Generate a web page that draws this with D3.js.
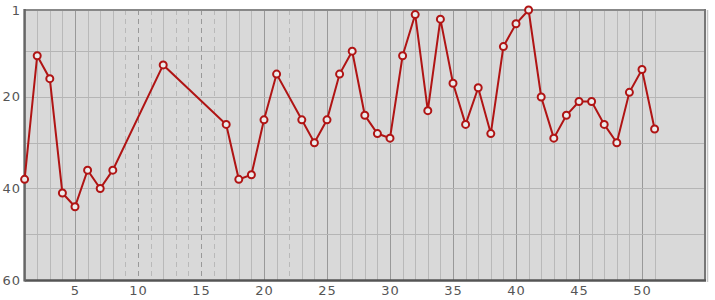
<!DOCTYPE html>
<html>
<head>
<meta charset="utf-8">
<script src="https://cdn.jsdelivr.net/npm/d3@7"></script>
<style>
  body { margin: 0; background: #fff; }
  text { font-family: "DejaVu Sans", sans-serif; font-size: 13px; fill: #555; letter-spacing: 1px; }
</style>
</head>
<body>
<div id="chart"></div>
<script>
// x position of each point (gaps where nothing was recorded)
const positions = [1, 2, 3, 4, 5, 6, 7, 8, 12, 17, 18, 19, 20, 21, 23, 24, 25, 26, 27, 28, 29, 30,
  31, 32, 33, 34, 35, 36, 37, 38, 39, 40, 41, 42, 43, 44, 45, 46, 47, 48, 49, 50, 51];
const ranks = [38, 11, 16, 41, 44, 36, 40, 36, 13, 26, 38, 37, 25, 15, 25, 30, 25, 15, 10, 24, 28, 29,
  11, 2, 23, 3, 17, 26, 18, 28, 9, 4, 1, 20, 29, 24, 21, 21, 26, 30, 19, 14, 27];
const xTicks = [5, 10, 15, 20, 25, 30, 35, 40, 45, 50];
const yTicks = [1, 20, 40, 60];
const yGrid = [10, 20, 30, 40, 50];

const width = 715,
    height = 300;

const x = d3.scaleLinear()
    .domain([1, 55])
    .range([24.6, 705]);

const y = d3.scaleLinear()
    .domain([1, 60])
    .range([10, 280]);

const svg = d3.select("#chart").append("svg")
    .attr("width", width)
    .attr("height", height);

svg.append("rect")
    .attr("x", x(1))
    .attr("y", y(1))
    .attr("width", x(55) - x(1))
    .attr("height", y(60) - y(1))
    .style("fill", "#d9d9d9");

// vertical grid: one line per slot, dashed where there is no point
const have = new Set(positions);
svg.append("g")
  .selectAll("line")
    .data(d3.range(2, 52))
  .enter().append("line")
    .attr("x1", d => Math.round(x(d)) + 0.5)
    .attr("x2", d => Math.round(x(d)) + 0.5)
    .attr("y1", y(1))
    .attr("y2", y(60))
    .style("stroke", d => d % 5 === 0 ? "#999" : "#b9b9b9")
    .style("stroke-width", 1)
    .style("stroke-dasharray", d => have.has(d) ? null : "5,4");

svg.append("g")
  .selectAll("line")
    .data(yGrid)
  .enter().append("line")
    .attr("x1", x(1))
    .attr("x2", x(55))
    .attr("y1", d => Math.round(y(d)) + 0.5)
    .attr("y2", d => Math.round(y(d)) + 0.5)
    .style("stroke", "#b5b5b5");

// frame
svg.append("line")
    .attr("x1", x(1)).attr("x2", x(55))
    .attr("y1", y(1)).attr("y2", y(1))
    .style("stroke", "#888").style("stroke-width", 2);
svg.append("line")
    .attr("x1", x(55) + 2.5).attr("x2", x(55) + 2.5)
    .attr("y1", y(1)).attr("y2", y(60) + 2)
    .style("stroke", "#c4c4c4").style("stroke-width", 1.5);
svg.append("line")
    .attr("x1", x(55)).attr("x2", x(55))
    .attr("y1", y(1) - 1).attr("y2", y(60))
    .style("stroke", "#777").style("stroke-width", 2);
svg.append("line")
    .attr("x1", x(1)).attr("x2", x(55) + 1)
    .attr("y1", y(60) + 0.5).attr("y2", y(60) + 0.5)
    .style("stroke", "#555").style("stroke-width", 2.5);
svg.append("line")
    .attr("x1", x(1)).attr("x2", x(1))
    .attr("y1", y(1) - 1).attr("y2", y(60) + 1.5)
    .style("stroke", "#666").style("stroke-width", 2.5);

svg.append("g")
  .selectAll("text")
    .data(yTicks)
  .enter().append("text")
    .attr("x", 21)
    .attr("y", d => y(d))
    .attr("dy", ".35em")
    .style("text-anchor", "end")
    .text(d => d);

svg.append("g")
  .selectAll("text")
    .data(xTicks)
  .enter().append("text")
    .attr("x", d => x(d) + 0.5)
    .attr("y", 295)
    .style("text-anchor", "middle")
    .text(d => d);

const points = positions.map((p, i) => ({ p: p, r: ranks[i] }));

const line = d3.line()
    .x(d => x(d.p))
    .y(d => y(d.r));

svg.append("path")
    .datum(points)
    .attr("d", line)
    .style("fill", "none")
    .style("stroke", "#b01414")
    .style("stroke-width", 2);

svg.append("g")
  .selectAll("circle")
    .data(points)
  .enter().append("circle")
    .attr("cx", d => x(d.p))
    .attr("cy", d => y(d.r))
    .attr("r", 3.5)
    .style("fill", "#ececec")
    .style("stroke", "#b01414")
    .style("stroke-width", 2);
</script>
</body>
</html>
